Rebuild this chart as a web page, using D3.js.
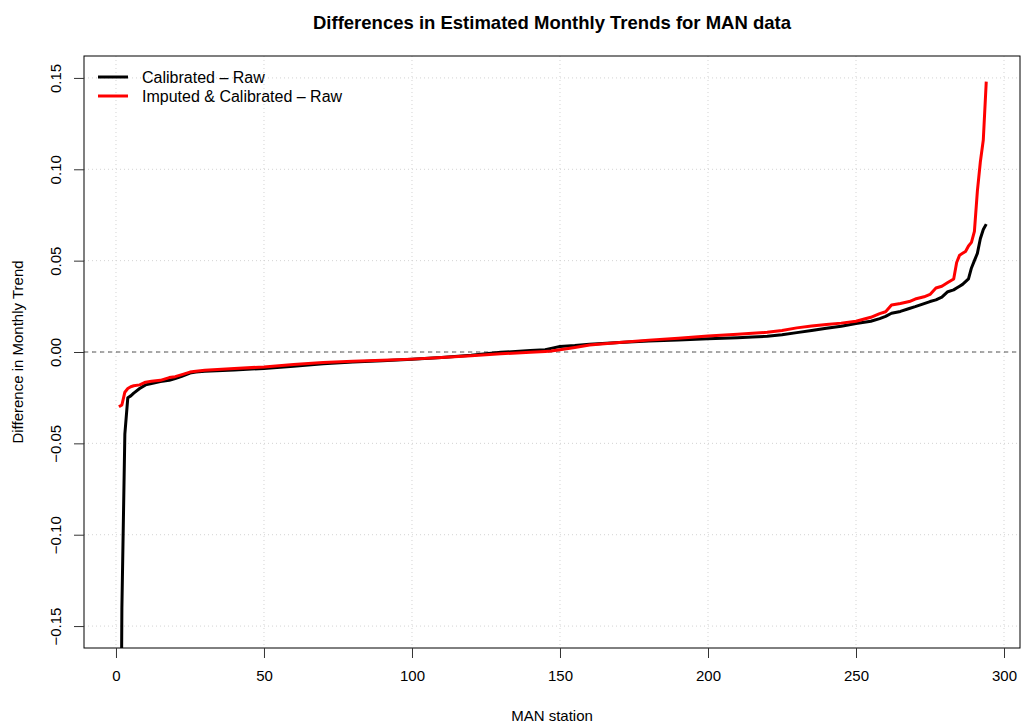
<!DOCTYPE html>
<html>
<head>
<meta charset="utf-8">
<script src="https://cdn.jsdelivr.net/npm/d3@7"></script>
<style>
  body { margin: 0; background: #fff; }
  svg { font-family: "Liberation Sans", Arial, sans-serif; }
</style>
</head>
<body>
<svg></svg>
<script>
// station index for each reading (sorted order)
var stations = [1,2,3,4,5,6,8,10,12,15,18,20,22,25,27,30,40,50,60,70,80,90,100,110,120,130,
  140,145,147,150,155,160,170,180,190,200,210,215,220,225,230,235,240,245,250,255,258,260,262,
  265,268,270,273,275,277,279,281,283,284,285,286,287,288,289,290,291,292,293,294];

var calibratedRaw = [-0.40,-0.14,-0.045,-0.025,-0.024,-0.0225,-0.020,-0.018,-0.0172,-0.0162,
  -0.0155,-0.0145,-0.0135,-0.0115,-0.011,-0.0105,-0.0098,-0.009,-0.0078,-0.0065,-0.0055,
  -0.0048,-0.004,-0.003,-0.0018,-0.0002,0.0008,0.0012,0.002,0.003,0.0035,0.0042,0.0052,
  0.006,0.0066,0.0072,0.0078,0.0082,0.0086,0.0094,0.0106,0.0118,0.013,0.0141,0.0156,0.0168,
  0.0183,0.0195,0.0212,0.0222,0.0238,0.0248,0.0265,0.0276,0.0285,0.030,0.033,0.034,0.035,
  0.036,0.037,0.0385,0.040,0.046,0.050,0.054,0.062,0.067,0.070];

var imputedRaw = [-0.030,-0.029,-0.022,-0.020,-0.019,-0.0185,-0.018,-0.0165,-0.016,-0.0155,
  -0.014,-0.0135,-0.0125,-0.011,-0.0105,-0.010,-0.009,-0.0082,-0.0068,-0.0058,-0.005,
  -0.0045,-0.0039,-0.003,-0.002,-0.001,-0.0002,0.0003,0.0005,0.0012,0.0025,0.0038,0.0052,
  0.0065,0.0075,0.0088,0.0097,0.0102,0.0108,0.0118,0.0132,0.0142,0.015,0.0158,0.0168,0.019,
  0.021,0.022,0.0257,0.0265,0.0276,0.029,0.0302,0.0315,0.035,0.036,0.038,0.040,0.049,0.053,
  0.054,0.055,0.058,0.060,0.066,0.088,0.104,0.116,0.148];

var xTicks = [0, 50, 100, 150, 200, 250, 300];
var yTicks = [-0.15, -0.10, -0.05, 0.00, 0.05, 0.10, 0.15];

var seriesNames = ["Calibrated \u2013 Raw", "Imputed & Calibrated \u2013 Raw"];
var seriesColors = ["#000000", "#ff0000"];

(function() {
  var width = 1021, height = 726;
  var pl = 84, pr = 1020, pt = 56, pb = 648;

  var svg = d3.select("svg").attr("width", width).attr("height", height);

  var x = d3.scaleLinear().domain([-10.8, 305.4]).range([pl, pr]);
  var y = d3.scaleLinear().domain([-0.162, 0.162]).range([pb, pt]);

  svg.append("defs").append("clipPath").attr("id", "plotclip")
    .append("rect")
      .attr("x", pl).attr("y", pt)
      .attr("width", pr - pl).attr("height", pb - pt);

  // grid
  svg.append("g").selectAll("line").data(xTicks).enter().append("line")
      .attr("x1", d => x(d)).attr("x2", d => x(d))
      .attr("y1", pt).attr("y2", pb)
      .attr("stroke", "#d3d3d3").attr("stroke-dasharray", "1,3");

  svg.append("g").selectAll("line").data(yTicks).enter().append("line")
      .attr("x1", pl).attr("x2", pr)
      .attr("y1", d => y(d)).attr("y2", d => y(d))
      .attr("stroke", "#d3d3d3").attr("stroke-dasharray", "1,3");

  // zero line
  svg.append("line")
      .attr("x1", pl).attr("x2", pr)
      .attr("y1", y(0)).attr("y2", y(0))
      .attr("stroke", "#555").attr("stroke-dasharray", "4,4");

  // series
  var line = d3.line()
      .x((d, i) => x(stations[i]))
      .y(d => y(d));

  var plot = svg.append("g").attr("clip-path", "url(#plotclip)");
  [calibratedRaw, imputedRaw].forEach(function(vals, k) {
    plot.append("path")
        .datum(vals)
        .attr("d", line)
        .attr("fill", "none")
        .attr("stroke", seriesColors[k])
        .attr("stroke-width", 3)
        .attr("stroke-linejoin", "round");
  });

  // box
  svg.append("rect")
      .attr("x", pl).attr("y", pt)
      .attr("width", pr - pl).attr("height", pb - pt)
      .attr("fill", "none").attr("stroke", "#000");

  // x axis
  var xAxis = d3.axisBottom(x).tickValues(xTicks).tickSize(10).tickPadding(12)
      .tickFormat(d3.format("d"));
  var gx = svg.append("g")
      .attr("transform", "translate(0," + pb + ")")
      .call(xAxis);
  gx.select(".domain").remove();
  gx.selectAll("line").attr("stroke", "#333");
  gx.selectAll("text").style("font-size", "15px").attr("fill", "#000")
      .attr("font-family", "Liberation Sans, Arial, sans-serif");

  // y axis, labels rotated like R's default
  var yAxis = d3.axisLeft(y).tickValues(yTicks).tickSize(10)
      .tickFormat(d => d3.format(".2f")(d).replace("-", "\u2212"));
  var gy = svg.append("g")
      .attr("transform", "translate(" + pl + ",0)")
      .call(yAxis);
  gy.select(".domain").remove();
  gy.selectAll("line").attr("stroke", "#333");
  gy.selectAll("text")
      .attr("x", null).attr("y", null).attr("dy", null)
      .attr("transform", "translate(-29,0) rotate(-90)")
      .attr("text-anchor", "middle")
      .attr("dominant-baseline", "central")
      .style("font-size", "15px").attr("fill", "#000")
      .attr("font-family", "Liberation Sans, Arial, sans-serif");

  // titles
  svg.append("text")
      .text("Differences in Estimated Monthly Trends for MAN data")
      .attr("x", (pl + pr) / 2).attr("y", 29)
      .attr("text-anchor", "middle")
      .style("font-size", "18.5px").style("font-weight", "bold");

  svg.append("text")
      .text("MAN station")
      .attr("x", (pl + pr) / 2).attr("y", 721)
      .attr("text-anchor", "middle")
      .style("font-size", "15px");

  svg.append("text")
      .text("Difference in Monthly Trend")
      .attr("transform", "translate(23," + ((pt + pb) / 2) + ") rotate(-90)")
      .attr("text-anchor", "middle")
      .style("font-size", "15px");

  // legend
  var legend = svg.append("g").selectAll("g").data(seriesNames).enter().append("g")
      .attr("transform", (d, i) => "translate(0," + (77 + i * 19) + ")");
  legend.append("line")
      .attr("x1", 98).attr("x2", 128)
      .attr("stroke", (d, i) => seriesColors[i]).attr("stroke-width", 3);
  legend.append("text")
      .text(d => d)
      .attr("x", 142).attr("dy", "0.35em")
      .style("font-size", "16px");
})();
</script>
</body>
</html>
